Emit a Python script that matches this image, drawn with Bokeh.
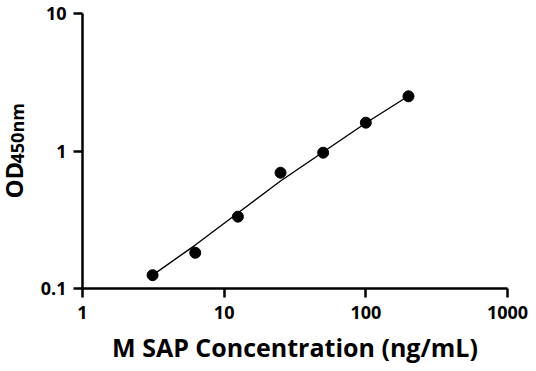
import math
from bokeh.plotting import figure
from bokeh.layouts import row
from bokeh.models import Range1d, FixedTicker, CustomJSTickFormatter, Label
from bokeh.embed import file_html
from bokeh.resources import INLINE

# Data
concentration = [3.125, 6.25, 12.5, 25, 50, 100, 200]
od450 = [0.125, 0.182, 0.333, 0.695, 0.972, 1.607, 2.50]
fit_od = [0.125, 0.207, 0.354, 0.605, 0.983, 1.598, 2.512]
x_ticks = [1, 10, 100, 1000]
y_ticks = [0.1, 1, 10]
y_title_main = "OD"
y_title_sub = "450nm"
x_title = "M SAP Concentration (ng/mL)"

FONT = "Open Sans"
H = 370
LW = 32            # width of the strip that holds the y title
TOP, BOTTOM = 13, 82

p = figure(width=532 - LW, height=H, x_axis_type="log", y_axis_type="log",
           x_range=Range1d(1, 1000), y_range=Range1d(0.1, 10),
           output_backend="svg", toolbar_location=None,
           min_border_left=82 - LW, min_border_right=25, min_border_top=TOP,
           min_border_bottom=BOTTOM)
p.outline_line_color = None
p.xgrid.grid_line_color = None
p.ygrid.grid_line_color = None

fmt = CustomJSTickFormatter(code="return tick.toString();")
for ax, ticks in ((p.xaxis[0], x_ticks), (p.yaxis[0], y_ticks)):
    ax.ticker = FixedTicker(ticks=ticks, minor_ticks=[])
    ax.formatter = fmt
    ax.axis_line_width = 2.5
    ax.axis_line_color = "black"
    ax.major_tick_line_width = 2.5
    ax.major_tick_line_color = "black"
    ax.major_tick_out = 9
    ax.major_tick_in = 0
    ax.minor_tick_line_color = None
    ax.major_label_text_font = FONT
    ax.major_label_text_font_style = "bold"
    ax.major_label_text_font_size = "18px"
    ax.major_label_text_color = "black"

p.xaxis.major_label_standoff = 8
p.yaxis.major_label_standoff = 7

p.xaxis.axis_label = x_title
p.xaxis.axis_label_text_font = FONT
p.xaxis.axis_label_text_font_style = "bold"
p.xaxis.axis_label_text_font_size = "25px"
p.xaxis.axis_label_text_color = "black"
p.xaxis.axis_label_standoff = 8

p.line(concentration, fit_od, line_color="black", line_width=1.4)
p.scatter(concentration, od450, size=11, fill_color="black", line_color="black")

# narrow strip for the y title ("OD" large, "450nm" smaller, same baseline).
# Its frame is aligned with the main frame (screen y 13..288), so the range
# below makes one unit equal one pixel, counted up from the page bottom.
t = figure(width=LW, height=H, x_range=Range1d(0, LW), y_range=Range1d(H - 288, H - TOP),
           output_backend="svg", toolbar_location=None, min_border=0)
t.axis.visible = False
t.grid.visible = False
t.outline_line_color = None
t.add_layout(Label(x=29.5, y=H - 198, text=y_title_main, angle=math.pi / 2,
                   text_font=FONT, text_font_style="bold", text_font_size="24px",
                   text_align="left", text_baseline="bottom", text_color="black"))
t.add_layout(Label(x=28.5, y=H - 163, text=y_title_sub, angle=math.pi / 2,
                   text_font=FONT, text_font_style="bold", text_font_size="18px",
                   text_align="left", text_baseline="bottom", text_color="black"))

layout = row(t, p)
open("out.html", "w").write(file_html(layout, INLINE))
